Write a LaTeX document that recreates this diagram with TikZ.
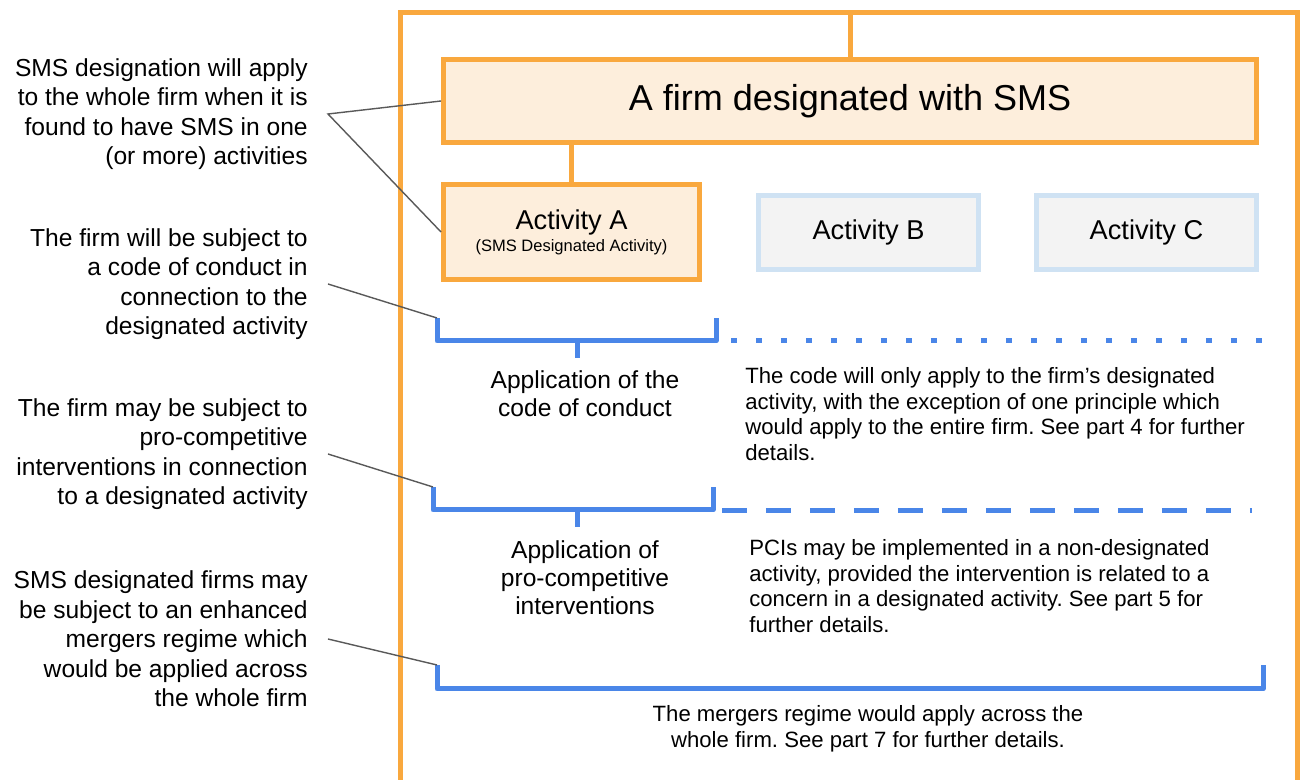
\documentclass[tikz,border=0pt]{standalone}
\usepackage{fontspec}
\setmainfont{Liberation Sans}
\usetikzlibrary{positioning}
\frenchspacing

\definecolor{smsorange}{HTML}{F9A83E}
\definecolor{smsbeige}{HTML}{FDEEDC}
\definecolor{actgrey}{HTML}{F3F3F3}
\definecolor{actblue}{HTML}{CFE2F3}
\definecolor{brkblue}{HTML}{4A86E8}
\definecolor{leadgrey}{HTML}{595959}

\begin{document}
\begin{tikzpicture}[x=0.02cm,y=-0.02cm,
  firmbox/.style={draw=smsorange,fill=smsbeige,line width=1mm,inner sep=0pt},
  otherbox/.style={draw=actblue,fill=actgrey,line width=1mm,inner sep=0pt,
    minimum width=4.4cm,minimum height=1.48cm,font=\fontsize{15.5}{18}\selectfont},
  bracket/.style={draw=brkblue,line width=1mm,line join=round},
  leader/.style={draw=leadgrey,line width=0.8pt},
  sidenote/.style={align=right,anchor=east,inner sep=0pt,font=\fontsize{14}{16.8}\selectfont},
  midnote/.style={align=center,inner sep=0pt,font=\fontsize{14}{16}\selectfont},
  bodynote/.style={inner sep=0pt,font=\fontsize{12.6}{14.6}\selectfont}]

\clip (0,0) rectangle (1303,780);
\useasboundingbox (0,0) rectangle (1303,780);

% outer frame
\draw[smsorange,line width=1mm] (400.5,800) -- (400.5,12.5) -- (1297.5,12.5) -- (1297.5,800);
\coordinate (frametop) at (850,12.5);

% firm and activities
\node(firm)[firmbox,minimum width=16.26cm,minimum height=1.66cm,
  font=\fontsize{20.5}{24}\selectfont] at (850,101) {A firm designated with SMS};

\node(actA)[firmbox,minimum width=5.12cm,minimum height=1.9cm,align=center,
  font=\fontsize{15.5}{19}\selectfont] at (571.5,232)
  {Activity A\\[-6.5pt]{\fontsize{9.4}{11}\selectfont (SMS Designated Activity)}};

\node(actB)[otherbox] at (868.5,232.5) {Activity B};

\node(actC)[otherbox,right=1.06cm of actB] {Activity C};

\draw[smsorange,line width=1mm] (frametop) -- (firm.north);
\draw[smsorange,line width=1mm] (actA.north |- firm.south) -- (actA.north);

% brackets
\coordinate (codeL) at (437,318);
\coordinate (codeR) at (716,318);
\coordinate (codeTick) at (577,358);
\draw[bracket] (codeL) -- (437,341) -- (716,341) -- (codeR);
\draw[bracket] (577,341) -- (codeTick);
\draw[brkblue,line width=1mm,dash pattern=on 0.12cm off 0.38cm] (731,341) -- (1262,341);

\coordinate (pciL) at (433,487);
\coordinate (pciR) at (713,487);
\coordinate (pciTick) at (577,527);
\draw[bracket] (pciL) -- (433,510) -- (713,510) -- (pciR);
\draw[bracket] (577,510) -- (pciTick);
\draw[brkblue,line width=1mm,dash pattern=on 0.5cm off 0.38cm] (722,511) -- (1252,511);

\coordinate (mergeL) at (437,665);
\coordinate (mergeR) at (1263,665);
\draw[bracket] (mergeL) -- (437,689) -- (1263,689) -- (mergeR);

% texts inside the frame
\node(codeLbl)[midnote] at (585,394) {Application of the\\code of conduct};
\node(pciLbl)[midnote] at (585,578) {Application of\\pro-competitive\\interventions};

\node(codeNote)[bodynote,anchor=west,align=left] at (745,414)
  {The code will only apply to the firm’s designated\\activity, with the exception of one principle which\\would apply to the entire firm. See part 4 for further\\details.};
\node(pciNote)[bodynote,anchor=west,align=left] at (749,586)
  {PCIs may be implemented in a non-designated\\activity, provided the intervention is related to a\\concern in a designated activity. See part 5 for\\further details.};
\node(mergeNote)[bodynote,align=center] at (868,729)
  {The mergers regime would apply across the\\whole firm. See part 7 for further details.};

% side notes
\node(sideFirm)[sidenote] at (308,114)
  {SMS designation will apply\\to the whole firm when it is\\found to have SMS in one\\(or more) activities};
\node(sideCode)[sidenote] at (308,284)
  {The firm will be subject to\\a code of conduct in\\connection to the\\designated activity};
\node(sidePci)[sidenote] at (308,454)
  {The firm may be subject to\\pro-competitive\\interventions in connection\\to a designated activity};
\node(sideMerge)[sidenote] at (308,639)
  {SMS designated firms may\\be subject to an enhanced\\mergers regime which\\would be applied across\\the whole firm};

\coordinate[right=0.4cm of sideFirm.east] (jFirm);
\coordinate[right=0.4cm of sideCode.east] (jCode);
\coordinate[right=0.4cm of sidePci.east] (jPci);
\coordinate[right=0.4cm of sideMerge.east] (jMerge);

\draw[leader] (firm.west) -- (jFirm) -- (actA.west);
\draw[leader] (jCode) -- (codeL);
\draw[leader] (jPci) -- (pciL);
\draw[leader] (jMerge) -- (mergeL);

\end{tikzpicture}
\end{document}
